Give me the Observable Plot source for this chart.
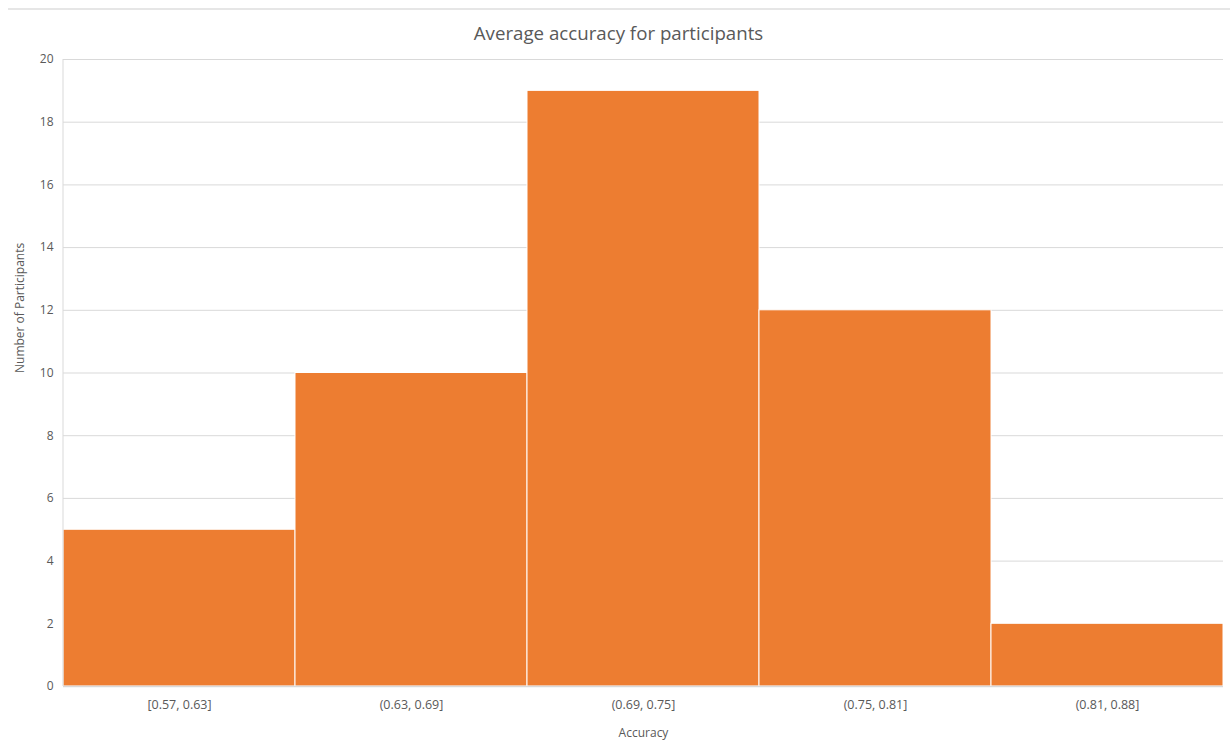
<!DOCTYPE html>
<html>
<head>
<meta charset="utf-8">
<script src="https://cdn.jsdelivr.net/npm/d3@7"></script>
<script src="https://cdn.jsdelivr.net/npm/@observablehq/plot@0.6"></script>
<style>
  body { margin: 0; background: #fff; font-family: "Open Sans", sans-serif; }
  #wrap { position: relative; width: 1230px; height: 746px; overflow: hidden; }
  #topline { position: absolute; left: 8px; right: 0; top: 8px; height: 2px; background: #e6e6e6; }
  #title { position: absolute; left: 0; width: 1230px; top: 20px; text-align: center;
           font-size: 18.7px; color: #595959; padding-left: 7px; box-sizing: border-box; }
  #chart { position: absolute; left: 0; top: 0; }
</style>
</head>
<body>
<div id="wrap">
  <div id="topline"></div>
  <div id="title">Average accuracy for participants</div>
  <div id="chart"></div>
</div>
<script>
// Accuracy bins and how many participants fell in each
const bins = ["[0.57, 0.63]", "(0.63, 0.69]", "(0.69, 0.75]", "(0.75, 0.81]", "(0.81, 0.88]"];
const counts = [5, 10, 19, 12, 2];
const yTicks = [0, 2, 4, 6, 8, 10, 12, 14, 16, 18, 20];

const data = bins.map((bin, i) => ({bin, count: counts[i]}));

const axisColor = "#d9d9d9";
const textColor = "#595959";
const W = 1230, H = 746, ML = 63, MR = 7;
const bandwidth = (W - ML - MR) / bins.length;

const chart = Plot.plot({
  width: W,
  height: H,
  marginLeft: ML,
  marginRight: MR,
  marginTop: 59,
  marginBottom: 60,
  style: {fontFamily: "'Open Sans', sans-serif", fontSize: "12px", color: textColor, background: "transparent"},
  x: {domain: bins, padding: 0, label: null},
  y: {domain: [0, 20], label: null},
  marks: [
    Plot.gridY(yTicks, {stroke: axisColor, strokeOpacity: 1, strokeWidth: 1}),
    Plot.barY(data, {x: "bin", y: "count", fill: "#ED7D31", stroke: "#ffffff", strokeWidth: 1, inset: 0}),
    // left axis line at the start of the first band
    Plot.ruleX([bins[0]], {x: d => d, dx: -bandwidth / 2 - 0.5, stroke: axisColor}),
    Plot.ruleY([0], {stroke: axisColor, strokeWidth: 1.5}),
    Plot.axisY(yTicks, {tickSize: 0, tickPadding: 10, fill: textColor, fontSize: 12, label: null}),
    Plot.axisX({tickSize: 0, tickPadding: 14, fill: textColor, fontSize: 12.5, label: null}),
    Plot.text(["Accuracy"], {frameAnchor: "bottom", dy: 50, fill: textColor, fontSize: 12}),
    Plot.text(["Number of Participants"], {frameAnchor: "left", dx: -43, rotate: -90, fill: textColor, fontSize: 12})
  ]
});

document.getElementById("chart").appendChild(chart);
</script>
</body>
</html>
